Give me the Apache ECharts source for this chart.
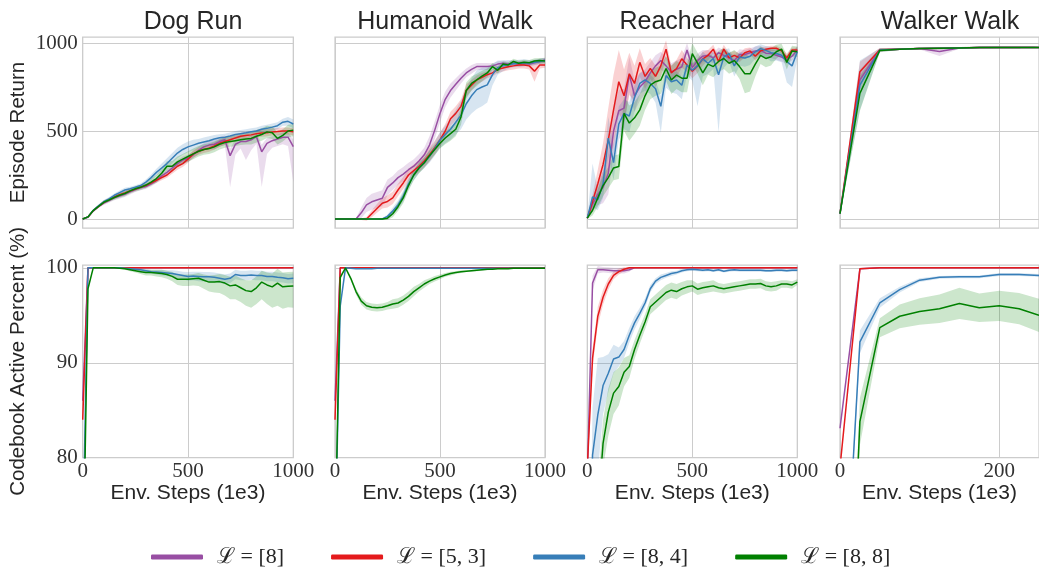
<!DOCTYPE html>
<html lang="en">
<head>
<meta charset="UTF-8">
<title>Episode return and codebook usage</title>
<script src="https://cdn.jsdelivr.net/npm/echarts@6/dist/echarts.min.js"></script>
<style>html,body{margin:0;padding:0;background:#fff;}</style>
</head>
<body>
<div id="chartmain" style="width:1039px;height:567px;"></div>
<script type="text/javascript">
// x positions (1e3 env steps)
var steps = [0,25,50,75,100,125,150,175,200,225,250,275,300,325,350,375,400,425,450,475,500,525,550,575,600,625,650,675,700,725,750,775,800,825,850,875,900,925,950,975,1000];
var stepsWalker = [0,25,50,75,100,125,150,175,200,225,250];
var stepMarks = [0,500,1000];
var stepMarksWalker = [0,200];

var names = ['ℒ = [8]', 'ℒ = [5, 3]', 'ℒ = [8, 4]', 'ℒ = [8, 8]'];
var colors = ['#984ea3', '#e41a1c', '#377eb8', '#008000'];
var titles = ['Dog Run', 'Humanoid Walk', 'Reacher Hard', 'Walker Walk'];
var returnTicks = [0, 500, 1000];
var codeTicks = [80, 90, 100];

// ---- Episode return ----
var dogRetP   = [0,10,45,70,90,105,120,130,140,155,168,178,185,200,220,245,265,290,315,335,345,365,390,410,420,425,440,450,360,425,440,440,450,468,382,430,445,455,465,465,411];
var dogRetPLo = [0,3,5,8,10,12,14,15,15,15,15,15,15,15,15,18,20,20,20,20,20,20,20,20,25,30,30,30,180,60,40,105,60,40,200,60,40,40,40,50,200];
var dogRetPHi = [0,3,5,8,10,12,14,15,15,15,15,15,15,15,15,18,20,20,20,20,20,20,20,20,25,25,25,25,40,30,25,25,25,25,40,30,25,25,25,30,40];
var dogRetR   = [0,12,48,72,95,110,125,138,148,160,170,182,190,205,220,235,250,275,300,315,340,370,385,395,402,415,430,440,450,460,470,475,478,485,488,490,495,497,500,500,496];
var dogRetRSd = [0,3,5,8,10,10,10,10,10,10,10,10,10,12,14,15,15,18,20,20,20,20,20,20,20,20,20,20,20,20,20,20,20,20,20,20,20,20,20,20,20];
var dogRetB   = [0,12,50,75,98,115,135,150,165,172,180,190,210,235,265,290,315,345,375,395,410,420,430,438,445,455,462,465,472,480,485,490,496,500,510,515,522,530,550,555,540];
var dogRetBSd = [0,3,5,8,10,10,10,12,12,12,12,12,15,18,20,25,30,30,30,30,30,30,25,25,25,22,20,20,20,20,20,20,20,20,20,20,20,20,20,25,25];
var dogRetG   = [0,12,48,72,95,108,122,135,145,160,172,180,193,210,230,260,300,300,325,340,355,370,385,395,400,410,425,435,440,445,450,455,458,470,480,495,490,458,475,500,505];
var dogRetGSd = [0,3,5,8,10,10,12,14,15,15,15,15,18,20,22,25,28,30,30,30,30,30,30,30,30,30,30,30,30,30,30,32,35,35,35,35,35,35,35,35,35];

var humRetP   = [0,0,0,0,0,35,80,98,108,118,180,205,235,255,280,300,330,365,420,505,600,680,730,765,800,830,850,866,866,866,870,880,885,880,885,880,885,880,888,895,903];
var humRetPSd = [0,0,0,0,5,30,40,45,45,45,45,40,40,40,40,40,40,40,50,50,50,45,40,35,30,25,25,20,20,20,15,15,15,15,15,15,15,15,15,15,15];
var humRetR   = [0,0,0,0,0,0,0,30,60,90,100,120,165,205,250,275,300,330,365,405,450,500,570,600,640,730,760,790,805,820,830,850,858,865,870,875,875,870,840,875,875];
var humRetRSd = [0,0,0,0,0,5,10,20,25,30,35,35,35,35,35,35,35,35,40,40,40,40,40,40,40,35,30,25,25,20,20,20,20,20,20,20,20,20,60,20,15];
var humRetB   = [0,0,0,0,0,0,0,0,0,0,15,45,80,130,200,250,290,320,355,400,449,480,510,550,590,655,700,735,750,762,820,860,870,878,882,885,887,888,890,895,900];
var humRetBSd = [0,0,0,0,0,0,0,0,0,5,10,20,25,30,30,30,30,30,35,40,45,50,60,70,80,90,100,110,110,100,60,40,30,25,20,20,20,15,15,15,15];
var humRetG   = [0,0,0,0,0,0,0,0,0,0,5,30,70,120,190,250,290,320,360,395,430,460,485,510,580,730,770,790,812,830,866,845,880,875,895,885,890,888,898,900,898];
var humRetGSd = [0,0,0,0,0,0,0,0,0,5,10,20,25,30,30,30,30,30,30,30,30,35,40,40,45,45,40,35,30,25,20,20,15,15,15,15,15,15,15,15,15];

var reaRetP   = [5,85,140,180,260,500,615,630,820,700,750,780,830,870,900,870,835,850,865,960,860,900,925,930,915,945,930,915,900,935,935,945,955,958,942,940,930,920,905,925,960];
var reaRetPSd = [5,40,60,90,120,130,120,110,100,90,80,70,60,60,50,50,50,50,50,40,40,40,35,30,30,30,30,30,30,30,25,25,25,25,25,25,25,25,25,25,20];
var reaRetR   = [5,100,200,310,450,620,780,700,825,770,890,810,855,810,870,965,830,855,910,875,840,870,910,930,965,895,965,915,930,915,945,955,925,955,965,970,970,955,915,960,960];
var reaRetRSd = [5,40,80,120,180,200,180,150,120,100,80,70,60,60,60,50,40,50,50,40,40,40,40,30,25,30,25,30,25,25,25,20,25,20,15,15,15,15,25,15,15];
var reaRetB   = [5,125,110,200,460,320,540,600,585,690,770,790,770,740,640,815,780,790,760,875,845,870,910,885,912,820,920,940,870,920,915,925,950,968,958,945,940,930,895,870,950];
var reaRetBLo = [5,60,60,80,100,100,90,90,90,80,60,60,60,80,150,70,60,80,80,60,60,230,100,60,60,330,60,50,60,50,50,50,40,40,40,50,40,40,120,120,40];
var reaRetBHi = [5,190,60,80,120,100,100,80,80,70,60,50,50,50,60,50,50,50,50,40,40,40,40,40,40,40,40,30,30,30,30,30,30,25,25,30,30,30,30,40,30];
var reaRetG   = [5,50,120,190,235,290,298,600,545,575,620,700,760,780,790,855,790,818,800,800,940,885,830,880,866,895,912,885,900,866,825,825,880,930,912,922,950,965,890,955,950];
var reaRetGSd = [5,30,50,60,60,70,70,100,100,90,90,80,80,80,80,70,80,80,80,80,60,60,70,60,60,60,60,60,60,70,110,100,70,50,50,50,40,30,40,30,30];

var walRetP   = [30,790,960,965,968,951,972,974,975,975,975];
var walRetPSd = [5,60,10,5,5,25,5,5,5,5,5];
var walRetR   = [30,837,962,965,968,970,972,974,975,975,975];
var walRetRSd = [5,57,10,5,5,5,5,5,5,5,5];
var walRetB   = [30,760,960,965,968,970,972,974,975,975,975];
var walRetBSd = [5,140,10,5,5,5,5,5,5,5,5];
var walRetG   = [30,714,958,965,968,970,972,974,975,975,975];
var walRetGSd = [5,100,10,5,5,5,5,5,5,5,5];

// ---- Codebook active percent ----
var dogCodeP   = [86,100,100,100,100,100,100,100,100,100,100,100,100,100,100,100,100,100,100,100,100,100,100,100,100,100,100,100,100,100,100,100,100,100,100,100,100,100,100,100,100];
var dogCodeR   = [84,100,100,100,100,100,100,100,100,100,100,100,100,100,100,100,100,100,100,100,100,100,100,100,100,100,100,100,100,100,100,100,100,100,100,100,100,100,100,100,100];
var dogCodeB   = [70,100,100,100,100,100,100,100,99.95,99.9,99.85,99.8,99.7,99.6,99.55,99.5,99.45,99.4,99.3,99.2,99.1,99.15,99.1,99.05,99.05,99.0,98.9,98.8,98.9,99.3,99.2,99.2,99.25,99.2,99.2,99.1,99.1,99.0,98.95,98.85,98.9];
var dogCodeBSd = [0,0,0,0,0,0,0,0,0.05,0.1,0.1,0.15,0.2,0.2,0.25,0.3,0.3,0.35,0.4,0.4,0.45,0.45,0.5,0.5,0.5,0.5,0.5,0.5,0.5,0.5,0.5,0.5,0.5,0.5,0.5,0.5,0.5,0.5,0.5,0.5,0.5];
var dogCodeG   = [65,97.8,100,100,100,100,100,99.95,99.9,99.8,99.7,99.6,99.5,99.5,99.45,99.4,99.3,99.1,98.8,98.8,98.8,98.85,98.9,98.7,98.5,98.5,98.55,98.4,98.1,98.2,97.9,97.6,97.5,97.9,98.5,98.2,98.0,98.4,98.0,98.05,98.1];
var dogCodeGLo = [0,0.3,0,0,0,0,0,0.05,0.1,0.15,0.2,0.25,0.3,0.3,0.35,0.4,0.45,0.5,0.6,0.7,0.7,0.7,0.8,0.9,1.0,1.1,1.2,1.3,1.4,1.5,1.5,1.6,1.7,1.7,1.8,2.0,2.2,2.4,2.3,2.2,2.3];
var dogCodeGHi = [0,0.3,0,0,0,0,0,0.05,0.1,0.15,0.2,0.25,0.3,0.3,0.35,0.4,0.4,0.45,0.5,0.5,0.5,0.5,0.55,0.6,0.7,0.75,0.8,0.85,0.95,1.0,1.0,1.1,1.2,1.2,1.2,1.3,1.4,1.5,1.5,1.5,1.5];

var humCodeP   = [86,100,100,100,100,100,100,100,100,100,100,100,100,100,100,100,100,100,100,100,100,100,100,100,100,100,100,100,100,100,100,100,100,100,100,100,100,100,100,100,100];
var humCodeR   = [84,100,100,100,100,100,100,100,100,100,100,100,100,100,100,100,100,100,100,100,100,100,100,100,100,100,100,100,100,100,100,100,100,100,100,100,100,100,100,100,100];
var humCodeB   = [70,96,100,99.95,99.9,99.9,99.9,99.9,99.95,99.95,99.95,99.95,99.95,99.95,99.95,99.95,99.95,99.95,99.95,99.95,99.95,99.95,99.95,99.95,99.95,99.95,99.95,99.95,99.95,99.95,99.95,99.95,99.95,99.95,99.95,99.95,99.95,99.95,99.95,99.95,99.95];
var humCodeG   = [70,99.0,100,98.9,97.5,96.5,96.0,95.85,95.8,95.85,96.0,96.2,96.3,96.6,97.0,97.5,97.9,98.3,98.6,98.85,99.05,99.25,99.4,99.5,99.6,99.65,99.7,99.75,99.8,99.85,99.85,99.9,99.9,99.9,99.95,99.95,99.95,99.95,99.95,99.95,99.95];
var humCodeGSd = [0,0.3,0,0.2,0.3,0.4,0.4,0.4,0.4,0.4,0.4,0.5,0.5,0.5,0.5,0.5,0.4,0.4,0.3,0.3,0.25,0.2,0.2,0.15,0.15,0.1,0.1,0.1,0.1,0.1,0.05,0.05,0.05,0.05,0.05,0.05,0.05,0.05,0.05,0.05,0.05];

var reaCodeP   = [78,98.4,99.8,99.8,99.75,99.7,99.7,99.7,99.8,100,100,100,100,100,100,100,100,100,100,100,100,100,100,100,100,100,100,100,100,100,100,100,100,100,100,100,100,100,100,100,100];
var reaCodePSd = [0,0.8,0.4,0.3,0.3,0.3,0.3,0.3,0.2,0,0,0,0,0,0,0,0,0,0,0,0,0,0,0,0,0,0,0,0,0,0,0,0,0,0,0,0,0,0,0,0];
var reaCodeR   = [79,90.5,94.9,96.9,98.3,99.2,99.6,99.85,100,100,100,100,100,100,100,100,100,100,100,100,100,100,100,100,100,100,100,100,100,100,100,100,100,100,100,100,100,100,100,100,100];
var reaCodeRSd = [0,1.0,1.0,0.8,0.6,0.4,0.3,0.2,0.1,0,0,0,0,0,0,0,0,0,0,0,0,0,0,0,0,0,0,0,0,0,0,0,0,0,0,0,0,0,0,0,0];
var reaCodeB   = [55,80.3,84.5,87.6,88.9,90.4,90.6,91.4,92.9,94.2,95.2,96.3,97.8,98.6,99.0,99.2,99.4,99.5,99.7,99.8,99.85,99.8,99.75,99.8,99.7,99.8,99.65,99.75,99.8,99.75,99.75,99.75,99.75,99.75,99.7,99.7,99.75,99.75,99.7,99.75,99.75];
var reaCodeBSd = [0,5,6,3,2,1.5,1.0,0.9,0.8,0.7,0.6,0.5,0.4,0.3,0.3,0.25,0.25,0.2,0.2,0.15,0.15,0.15,0.15,0.15,0.15,0.15,0.15,0.15,0.15,0.15,0.15,0.15,0.15,0.15,0.15,0.15,0.15,0.15,0.15,0.15,0.15];
var reaCodeG   = [50,62,74,81.5,84.8,86.8,87.5,89.0,89.6,91.4,92.9,94.3,95.9,96.4,96.9,97.4,97.65,97.5,97.8,98.0,98.1,97.75,97.9,98.0,98.1,97.9,97.8,97.9,98.0,98.1,98.2,98.3,98.3,98.35,98.1,98.0,98.1,98.3,98.3,98.2,98.5];
var reaCodeGSd = [0,3,3,2.5,2.5,2.2,2,1.5,1.2,1.0,0.9,0.8,0.8,0.8,0.8,0.8,0.8,0.8,0.7,0.7,0.6,0.6,0.6,0.6,0.6,0.5,0.5,0.5,0.5,0.5,0.5,0.5,0.5,0.5,0.5,0.5,0.5,0.4,0.4,0.4,0.3];

var walCodeP   = [83.1,99.9,100,100,100,100,100,100,100,100,100];
var walCodeR   = [79,99.9,100,100,100,100,100,100,100,100,100];
var walCodeB   = [55,92.2,96.3,97.7,98.7,99.0,99.05,99.05,99.3,99.3,99.2];
var walCodeBSd = [0,1.2,0.5,0.3,0.2,0.15,0.15,0.15,0.15,0.15,0.15];
var walCodeG   = [36,83.8,93.7,94.9,95.4,95.7,96.25,95.8,96.0,95.7,95.0];
var walCodeGSd = [0,2.5,1.0,1.25,1.4,1.5,1.65,1.5,1.6,1.65,1.75];

// ---- layout ----
var colLeft = [82.7, 335, 587.3, 840];
var colW = [210.6, 210, 210, 210];
var rowTop = [37, 265];
var rowH = [191, 192.7];
var tickFont = 'Liberation Serif, DejaVu Serif, serif';
var textFont = 'Liberation Sans, Arial, sans-serif';

var grids = [], xAxes = [], yAxes = [], series = [];

// one line: mean, lower spread, upper spread (null = no band)
function ln(mean, lo, hi) {
    return {mean: mean, lo: lo, hi: hi || lo};
}

function addPanel(row, col, xs, marks, yMin, yMax, yTicks, yName, lines) {
    var gi = grids.length;
    var showMark = function (idx, v) { return marks.indexOf(Number(v)) >= 0; };
    grids.push({
        left: colLeft[col], top: rowTop[row], width: colW[col], height: rowH[row],
        show: true, borderColor: '#cccccc', borderWidth: 1.25, backgroundColor: '#fff'
    });
    xAxes.push({
        type: 'category', gridIndex: gi, data: xs, boundaryGap: false,
        axisLine: {show: false}, axisTick: {show: false},
        axisLabel: {show: row === 1, interval: showMark, margin: 3,
            fontFamily: tickFont, fontSize: 21, color: '#333'},
        splitLine: {show: true, interval: showMark, lineStyle: {color: '#cccccc', width: 1}},
        name: row === 1 ? 'Env. Steps (1e3)' : '', nameLocation: 'middle', nameGap: 22,
        nameTextStyle: {fontFamily: textFont, fontSize: 21, color: '#262626'}
    });
    yAxes.push({
        type: 'value', gridIndex: gi, min: yMin, max: yMax,
        axisLine: {show: false},
        axisTick: {show: false, customValues: yTicks},
        axisLabel: {show: col === 0, customValues: yTicks, margin: 5,
            formatter: function (v) { return String(v); },
            fontFamily: tickFont, fontSize: 21, color: '#333'},
        splitLine: {show: true, lineStyle: {color: '#cccccc', width: 1}},
        name: col === 0 ? yName : '', nameLocation: 'middle', nameGap: 54,
        nameTextStyle: {fontFamily: textFont, fontSize: 20.5, color: '#262626'}
    });
    lines.forEach(function (l, k) {
        if (!l.lo) return;
        var stackId = 'band' + gi + '_' + k;
        series.push({
            type: 'line', name: 'band', xAxisIndex: gi, yAxisIndex: gi,
            stack: stackId, stackStrategy: 'all', symbol: 'none', silent: true,
            lineStyle: {opacity: 0}, z: 1,
            data: l.mean.map(function (v, i) { return v - l.lo[i]; })
        });
        series.push({
            type: 'line', name: 'band', xAxisIndex: gi, yAxisIndex: gi,
            stack: stackId, stackStrategy: 'all', symbol: 'none', silent: true,
            lineStyle: {opacity: 0}, areaStyle: {color: colors[k], opacity: 0.2}, z: 1,
            data: l.mean.map(function (v, i) { return l.lo[i] + l.hi[i]; })
        });
    });
    lines.forEach(function (l, k) {
        series.push({
            type: 'line', name: names[k], xAxisIndex: gi, yAxisIndex: gi,
            symbol: 'none', color: colors[k], z: 3,
            lineStyle: {width: 1.5, color: colors[k]},
            data: l.mean
        });
    });
}

addPanel(0, 0, steps, stepMarks, -51, 1034, returnTicks, 'Episode Return',
    [ln(dogRetP, dogRetPLo, dogRetPHi), ln(dogRetR, dogRetRSd), ln(dogRetB, dogRetBSd), ln(dogRetG, dogRetGSd)]);
addPanel(0, 1, steps, stepMarks, -51, 1034, returnTicks, '',
    [ln(humRetP, humRetPSd), ln(humRetR, humRetRSd), ln(humRetB, humRetBSd), ln(humRetG, humRetGSd)]);
addPanel(0, 2, steps, stepMarks, -51, 1034, returnTicks, '',
    [ln(reaRetP, reaRetPSd), ln(reaRetR, reaRetRSd), ln(reaRetB, reaRetBLo, reaRetBHi), ln(reaRetG, reaRetGSd)]);
addPanel(0, 3, stepsWalker, stepMarksWalker, -51, 1034, returnTicks, '',
    [ln(walRetP, walRetPSd), ln(walRetR, walRetRSd), ln(walRetB, walRetBSd), ln(walRetG, walRetGSd)]);

addPanel(1, 0, steps, stepMarks, 80, 100.3, codeTicks, 'Codebook Active Percent (%)',
    [ln(dogCodeP), ln(dogCodeR), ln(dogCodeB, dogCodeBSd), ln(dogCodeG, dogCodeGLo, dogCodeGHi)]);
addPanel(1, 1, steps, stepMarks, 80, 100.3, codeTicks, '',
    [ln(humCodeP), ln(humCodeR), ln(humCodeB), ln(humCodeG, humCodeGSd)]);
addPanel(1, 2, steps, stepMarks, 80, 100.3, codeTicks, '',
    [ln(reaCodeP, reaCodePSd), ln(reaCodeR, reaCodeRSd), ln(reaCodeB, reaCodeBSd), ln(reaCodeG, reaCodeGSd)]);
addPanel(1, 3, stepsWalker, stepMarksWalker, 80, 100.3, codeTicks, '',
    [ln(walCodeP), ln(walCodeR), ln(walCodeB, walCodeBSd), ln(walCodeG, walCodeGSd)]);

var titleList = titles.map(function (t, c) {
    return {
        text: t, left: colLeft[c] + colW[c] / 2, top: 5, textAlign: 'center',
        textStyle: {fontFamily: textFont, fontSize: 25, fontWeight: 'normal', color: '#262626'}
    };
});

var option = {
    animation: false,
    backgroundColor: '#fff',
    title: titleList,
    legend: {
        data: names, left: 146, top: 541, icon: 'roundRect',
        itemWidth: 52, itemHeight: 5, itemGap: 47, selectedMode: false,
        textStyle: {fontFamily: tickFont, fontSize: 22, color: '#262626', padding: [0, 0, 0, 9]}
    },
    grid: grids,
    xAxis: xAxes,
    yAxis: yAxes,
    series: series
};

var myChart = echarts.init(document.getElementById('chartmain'), null, {renderer: 'canvas'});
myChart.setOption(option);
</script>
</body>
</html>
